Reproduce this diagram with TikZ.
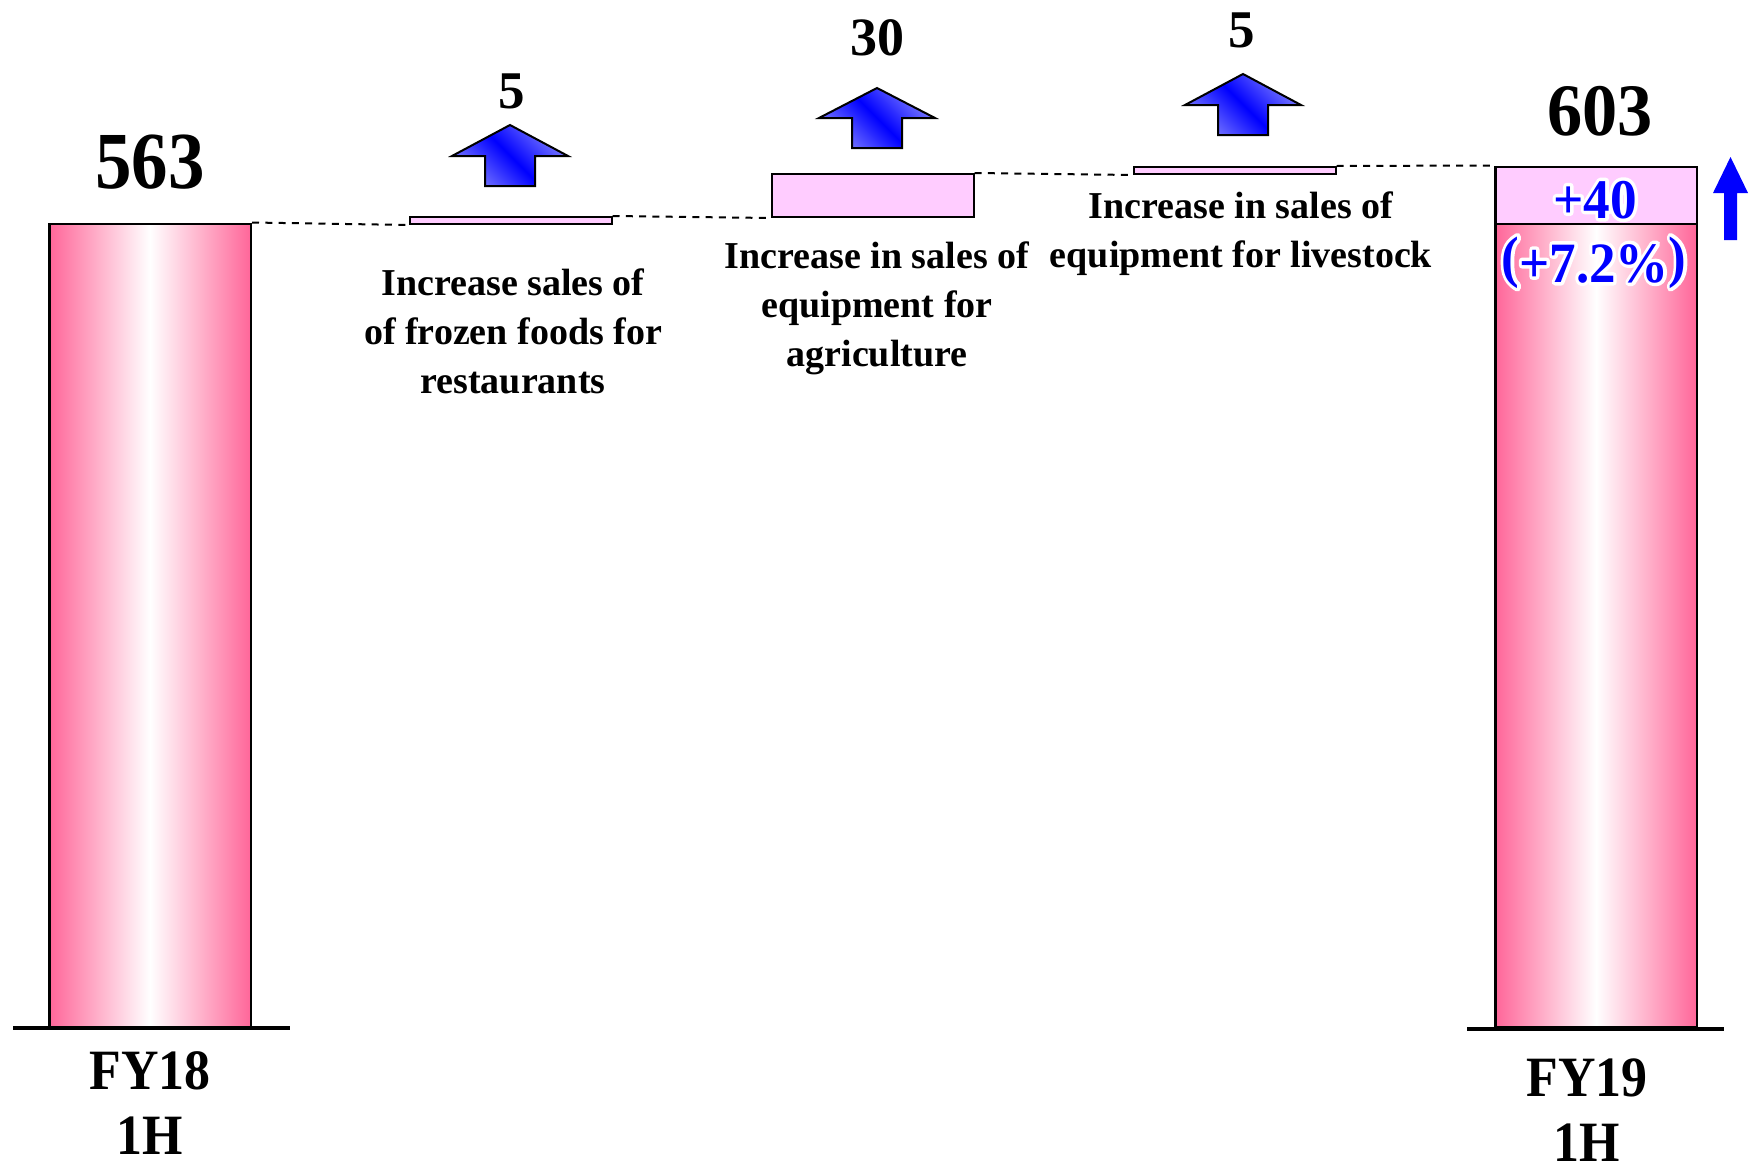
\documentclass[tikz,border=0pt]{standalone}
\usepackage{fontspec}
\setmainfont{Liberation Serif}
\usepackage{graphicx}
\definecolor{barpink}{RGB}{255,102,153}
\definecolor{lightpink}{RGB}{255,204,255}
\definecolor{arrowlight}{RGB}{125,125,255}

% bold text at a given size and line spacing
\newcommand\fs[2]{\fontsize{#1}{#2}\selectfont\bfseries}
% blue text on a white outline halo (stroked copy underneath)
\newcommand\glowing[1]{%
  \makebox[0pt][l]{\special{x:gsave}\special{pdf:literal 2 Tr 7 w 1 j}\textcolor{white}{#1}\special{pdf:literal 0 Tr}\special{x:grestore}}%
  \textcolor{blue}{#1}}
\newcommand\bigparen[1]{\raisebox{6pt}{#1}}

\begin{document}
\begin{tikzpicture}[x=1pt,y=-1pt,
  bigbar/.style={draw=black, line width=2.5pt, anchor=south west, inner sep=0pt,
    minimum width=201.5pt, left color=barpink, right color=barpink, middle color=white},
  stepbar/.style={draw=black, line width=2pt, anchor=south west, inner sep=0pt,
    minimum width=201.5pt, fill=lightpink},
  guide/.style={draw=black, line width=2pt, dash pattern=on 7pt off 6.3pt},
  axisline/.style={draw=black, line width=4pt},
  uparrow/.style={draw=black, line width=2pt, line join=miter,
    top color=arrowlight, bottom color=arrowlight, middle color=blue, shading angle=-45},
  value/.style={anchor=base, inner sep=0pt},
  caption/.style={anchor=north, inner sep=0pt, align=center, font=\fs{38}{49}},
  period/.style={anchor=north, inner sep=0pt, align=center, font=\fs{57}{65}},
  change/.style={anchor=base, inner sep=0pt, font=\fs{56}{56}}]

\useasboundingbox (0,0) rectangle (1758,1167);

% columns and steps
\node[bigbar, minimum height=803pt] (fy18) at (48,1028) {};
\node[stepbar, minimum height=7pt] (frozen) at (409,225) {};
\node[stepbar, minimum height=43pt] (agri) at (771,218) {};
\node[stepbar, minimum height=7pt] (live) at (1133,175) {};
\node[bigbar, minimum height=803pt] (fy19) at (1494,1028) {};
\node[stepbar, line width=2.5pt, minimum height=57pt] (gain) at (1494,225) {};

% dashed guides from step to step
\draw[guide] (fy18.north east) -- (frozen.south west);
\draw[guide] (frozen.north east) -- (agri.south west);
\draw[guide] (agri.north east) -- (live.south west);
\draw[guide] (live.north east) -- (gain.north west);

% base lines
\coordinate (baseAl) at (13,1028);
\coordinate (baseAr) at (290,1028);
\coordinate (baseBl) at (1467,1029);
\coordinate (baseBr) at (1724,1029);
\draw[axisline] (baseAl) -- (baseAr);
\draw[axisline] (baseBl) -- (baseBr);

% block arrows above the steps
\shadedraw[uparrow] (510,125) -- ++(58,31) -- ++(-33,0) -- ++(0,30) -- ++(-50,0) -- ++(0,-30) -- ++(-33,0) -- cycle;
\shadedraw[uparrow] (877,88) -- ++(58,30) -- ++(-33,0) -- ++(0,30) -- ++(-50,0) -- ++(0,-30) -- ++(-33,0) -- cycle;
\shadedraw[uparrow] (1243,74) -- ++(58,31) -- ++(-33,0) -- ++(0,30) -- ++(-50,0) -- ++(0,-30) -- ++(-33,0) -- cycle;

% solid blue arrow beside the result
\fill[blue] (1730.5,157) -- (1748,193) -- (1737,193) -- (1737,240) -- (1724,240) -- (1724,193) -- (1713,193) -- cycle;

% values
\node[value, font=\fs{81}{81}] (v563) at (150,188) {\scalebox{0.9}[1]{563}};
\node[value, font=\fs{74}{74}] (v603) at (1600,135) {\scalebox{0.95}[1]{603}};
\node[value, font=\fs{53}{53}] (d1) at (512,108) {5};
\node[value, font=\fs{54}{54}] (d2) at (877,55) {30};
\node[value, font=\fs{53}{53}] (d3) at (1242,47) {5};

% step captions
\node[caption] (c1) at (513,269) {Increase sales of\\of frozen foods for\\restaurants};
\node[caption] (c2) at (877,242) {Increase in sales of\\equipment for\\agriculture};
\node[caption] (c3) at (1241,192) {Increase in sales of\\equipment for livestock};

% period labels
\node[period] (p18) at (150,1051.5) {\scalebox{0.91}[1]{FY18}\\\scalebox{0.91}[1]{1H}};
\node[period] (p19) at (1587,1059) {\scalebox{0.91}[1]{FY19}\\\scalebox{0.91}[1]{1H}};

% change in blue
\node[change] (plus) at (1595,218) {\scalebox{0.95}[1]{\glowing{+40}}};
\node[change, font=\fs{57}{57}] (pct) at (1594,282) {\scalebox{0.93}[1]{\glowing{\bigparen{(}+7.2\%\bigparen{)}}}};
\end{tikzpicture}
\end{document}
